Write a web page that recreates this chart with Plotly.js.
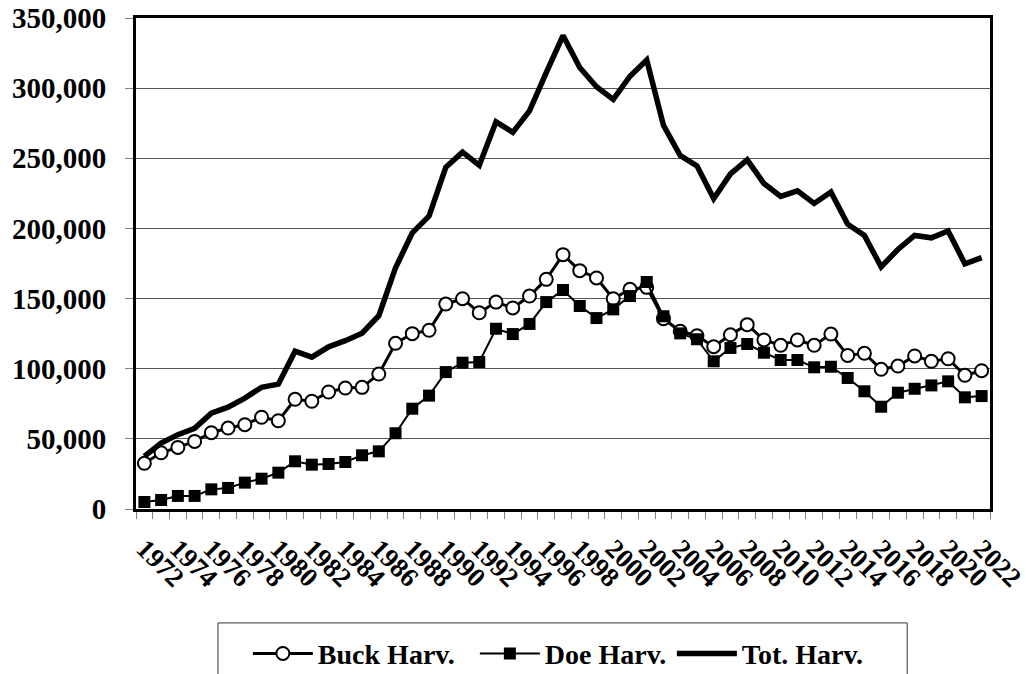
<!DOCTYPE html>
<html>
<head>
<meta charset="utf-8">
<script src="https://cdn.plot.ly/plotly-3.0.1.min.js"></script>
<style>
html,body{margin:0;padding:0;background:#fff;}
#chart{width:1026px;height:674px;}
</style>
</head>
<body>
<div id="chart"></div>
<script>
const years = [1972,1973,1974,1975,1976,1977,1978,1979,1980,1981,1982,1983,1984,1985,1986,1987,1988,1989,1990,1991,1992,1993,1994,1995,1996,1997,1998,1999,2000,2001,2002,2003,2004,2005,2006,2007,2008,2009,2010,2011,2012,2013,2014,2015,2016,2017,2018,2019,2020,2021,2022];

const buckHarv = [32600,40100,43900,48200,54400,57700,60100,65400,62900,78200,76800,83400,86200,86700,96200,118100,125000,127400,146100,149900,139900,147500,143300,151800,163700,181300,169900,164700,149900,156600,158000,135700,126700,123500,115700,124200,131400,120500,116700,120500,116700,124700,109500,111000,99600,101900,109100,105300,107100,95300,98600];

const doeHarv = [5000,6400,9300,9300,14000,15000,18800,21600,25900,34000,31600,32100,33500,38300,41100,54000,71500,80800,97600,104300,104800,128500,124700,131900,147500,156100,144700,136100,142300,151800,161800,137400,125200,121000,105300,114800,117600,111400,106200,106200,101000,101400,93400,83900,72900,82900,85700,88100,91000,79600,80500];

const totHarv = [37500,47000,53000,57500,68300,72600,79000,86800,89000,112500,108200,115600,120000,125300,137800,172000,196800,208800,243600,254400,245000,276000,268500,283800,311000,337500,314700,301000,292000,308500,320000,273500,252000,244600,221300,238900,248900,232000,222800,226800,217800,226000,203000,195000,172600,185000,195000,193300,198200,174800,179200];

const seriesNames = ["Buck Harv.", "Doe Harv.", "Tot. Harv."];
const xLabelYears = years.filter(y => y % 2 === 0);
const xLabelText = xLabelYears.map(String);

const FONT = "'Liberation Serif', 'Times New Roman', serif";

const traces = [
  {
    x: years, y: buckHarv, name: seriesNames[0], type: 'scatter', mode: 'lines+markers',
    line: {color: '#000', width: 3},
    marker: {symbol: 'circle', size: 13, color: '#fff', line: {color: '#000', width: 2}},
    legendwidth: 152
  },
  {
    x: years, y: doeHarv, name: seriesNames[1], type: 'scatter', mode: 'lines+markers',
    line: {color: '#000', width: 2},
    marker: {symbol: 'square', size: 12, color: '#000', line: {color: '#000', width: 0}},
    legendwidth: 122
  },
  {
    x: years, y: totHarv, name: seriesNames[2], type: 'scatter', mode: 'lines',
    line: {color: '#000', width: 5.5}
  }
];

const layout = {
  width: 1026, height: 674,
  margin: {l: 136, r: 36, t: 18, b: 165},
  paper_bgcolor: '#fff', plot_bgcolor: '#fff',
  font: {family: FONT, color: '#000', weight: 'bold'},
  showlegend: true,
  legend: {
    orientation: 'h', xref: 'paper', x: 0.131, xanchor: 'left',
    yref: 'container', y: 0.03, yanchor: 'middle',
    font: {family: FONT, size: 28, color: '#000', weight: 'bold'},
    bgcolor: 'rgba(0,0,0,0)', borderwidth: 0, itemwidth: 60,
    traceorder: 'normal'
  },
  xaxis: {
    range: [1971.5, 2022.5],
    tickmode: 'array', tickvals: xLabelYears, ticktext: xLabelText,
    tickangle: 45, ticks: '',
    tickfont: {family: FONT, size: 27, color: '#000', weight: 'bold'},
    ticklabelstandoff: 10,
    ticklabeloverflow: 'allow',
    showgrid: false, zeroline: false,
    showline: true, linecolor: '#000', linewidth: 3, mirror: true,
    minor: {tickmode: 'linear', tick0: 1971.5, dtick: 1, ticks: 'outside', ticklen: 7, tickwidth: 1, tickcolor: '#808080', showgrid: false},
    fixedrange: true
  },
  yaxis: {
    range: [0, 350000], tickmode: 'linear', tick0: 0, dtick: 50000,
    tickformat: ',d',
    ticks: 'outside', ticklen: 8, tickwidth: 1, tickcolor: '#808080',
    tickfont: {family: FONT, size: 29, color: '#000', weight: 'bold'},
    ticklabelstandoff: 13,
    showgrid: true, gridcolor: '#555', gridwidth: 1,
    zeroline: false,
    showline: true, linecolor: '#000', linewidth: 3, mirror: true,
    fixedrange: true
  },
  shapes: [
    {type: 'rect', xref: 'paper', yref: 'paper',
     x0: 0.096, x1: 0.903, y0: -0.232, y1: -0.36,
     line: {color: '#333', width: 1}, fillcolor: 'rgba(0,0,0,0)'}
  ]
};

Plotly.newPlot('chart', traces, layout, {displayModeBar: false, staticPlot: true});
</script>
</body>
</html>
